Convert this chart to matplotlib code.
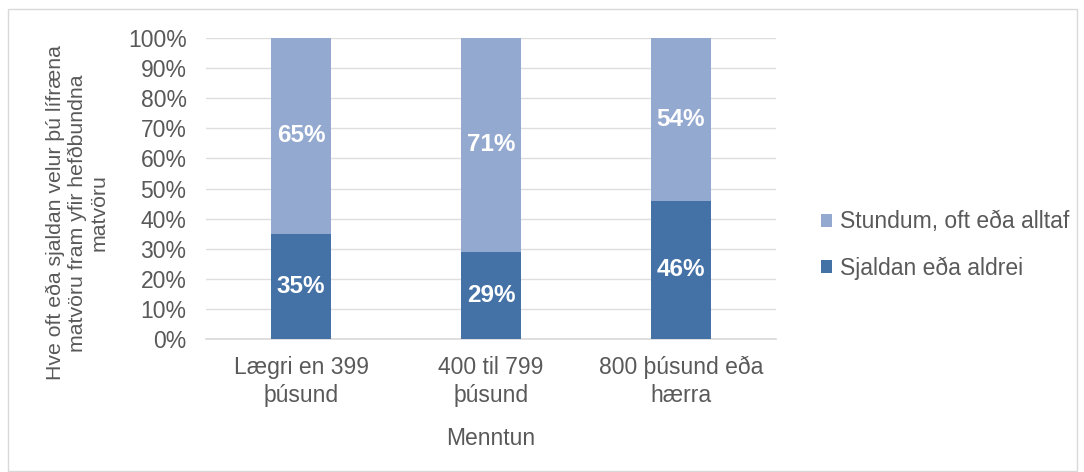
import matplotlib
matplotlib.use("Agg")
import matplotlib.pyplot as plt
from matplotlib.patches import Rectangle
import numpy as np

categories = ["Lægri en 399\nþúsund", "400 til 799\nþúsund", "800 þúsund eða\nhærra"]
sjaldan = [35, 29, 46]
stundum = [65, 71, 54]
series_names = ["Sjaldan eða aldrei", "Stundum, oft eða alltaf"]
y_ticks = [0, 10, 20, 30, 40, 50, 60, 70, 80, 90, 100]
x_title = "Menntun"
y_title = "Hve oft eða sjaldan velur þú lífræna\nmatvöru fram yfir hefðbundna\nmatvöru"

plt.rcParams['font.family'] = ['Liberation Sans', 'DejaVu Sans']
TXT = "#595959"
DARK = "#4472A7"
LIGHT = "#94A9D0"

fig = plt.figure(figsize=(10.84, 4.72), dpi=100)
fig.patches.append(Rectangle((8/1084, 1 - 471/472), 1069/1084, 462/472,
                             transform=fig.transFigure, fill=False,
                             edgecolor="#D9D9D9", linewidth=1.0))
ax = fig.add_axes([206/1084, 1 - 339/472, 570/1084, 301/472])

x = np.arange(len(categories))
w = 0.315
b1 = ax.bar(x, sjaldan, w, color=DARK, label=series_names[0], zorder=3)
b2 = ax.bar(x, stundum, w, bottom=sjaldan, color=LIGHT, label=series_names[1], zorder=3)

for bars, vals in ((b1, sjaldan), (b2, stundum)):
    for rect, v in zip(bars, vals):
        ax.text(rect.get_x() + rect.get_width()/2, rect.get_y() + rect.get_height()/2,
                f"{v}%", ha="center", va="center", color="white", fontsize=17.5,
                fontweight="bold", zorder=4)

ax.set_xlim(-0.5, len(categories) - 0.5)
ax.set_ylim(0, 100)
ax.set_yticks(y_ticks)
ax.set_yticklabels([f"{t}%" for t in y_ticks])
ax.set_xticks(x)
ax.set_xticklabels(categories, linespacing=1.3)
ax.tick_params(axis="y", length=0, pad=14, labelsize=16.5, labelcolor=TXT)
ax.tick_params(axis="x", length=0, pad=12, labelsize=16.5, labelcolor=TXT)
ax.grid(axis="y", color="#DEDEDE", linewidth=1.0, zorder=0)
for s in ["top", "right", "left"]:
    ax.spines[s].set_visible(False)
ax.spines["bottom"].set_color("#D9D9D9")
ax.spines["bottom"].set_linewidth(1.2)
ax.spines["bottom"].set_zorder(2)

ax.set_xlabel(x_title, fontsize=16.5, color=TXT, labelpad=14)
ax.set_ylabel(y_title, fontsize=15.3, color=TXT, linespacing=1.2)
ax.yaxis.label.set_va("center")
ax.yaxis.set_label_coords(-0.226, 0.419)

handles = [b2, b1]
leg = fig.legend(handles, [series_names[1], series_names[0]], loc="center left",
                 bbox_to_anchor=(800/1084, 1 - 245/472), frameon=False,
                 fontsize=16.5, handlelength=0.5, handleheight=0.5,
                 handletextpad=0.35, labelspacing=1.0, labelcolor=TXT)

fig.savefig("out.png", dpi=100)
